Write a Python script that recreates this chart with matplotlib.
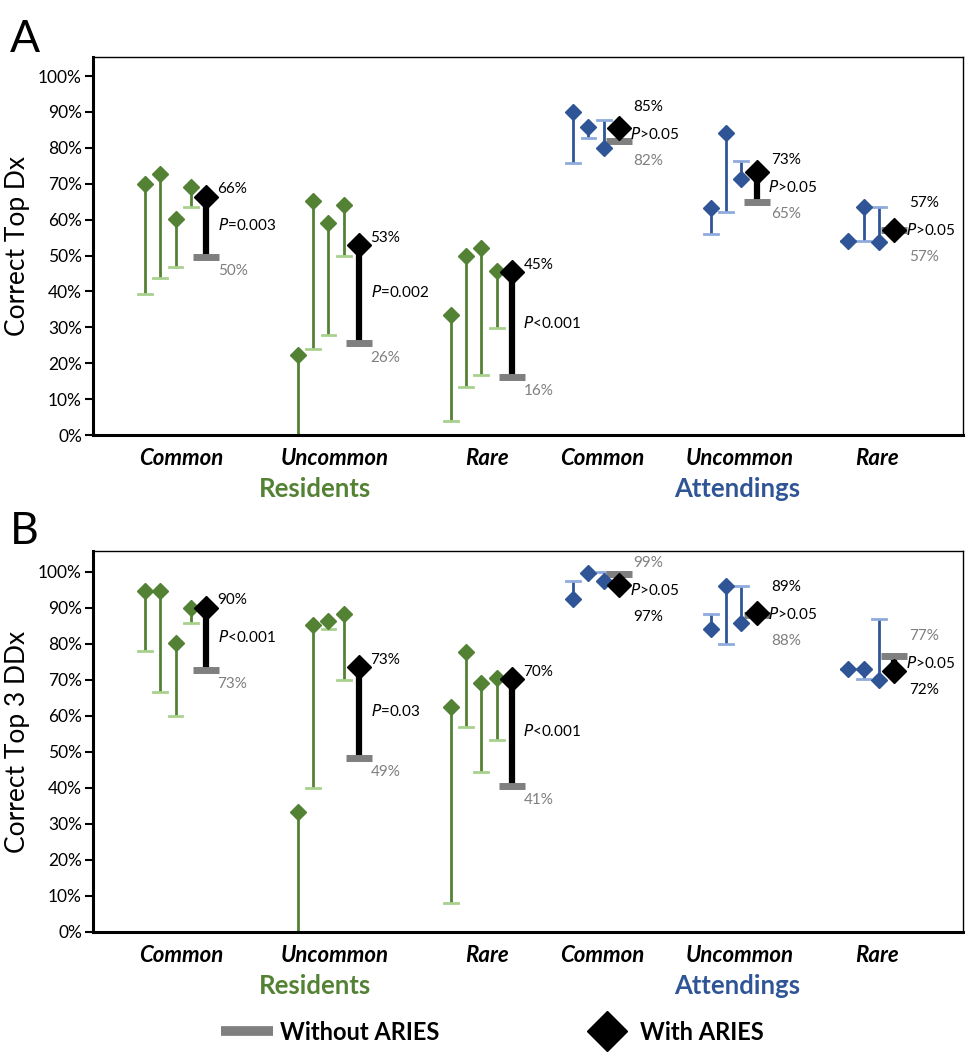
# ARIES diagnostic accuracy chart: residents vs attendings, with / without ARIES
import matplotlib.pyplot as plt
import matplotlib.lines as mlines
from matplotlib.ticker import FuncFormatter

plt.rcParams['font.family'] = ['Lato', 'DejaVu Sans']

categories = ["Common", "Uncommon", "Rare", "Common", "Uncommon", "Rare"]
groups = ["Residents", "Attendings"]

# panel A: correct top Dx, per participant (without -> with ARIES)
a_without = [[39.2, 43.8, 46.9, 63.5], [0.0, 24.0, 27.9, 50.0], [3.9, 13.5, 16.7, 29.9],
             [75.7, 82.6, 87.7], [56.0, 62.0, 76.2], [54.1, 54.1, 63.6]]
a_with = [[70.0, 72.6, 60.2, 69.2], [22.3, 65.3, 59.0, 64.2], [33.5, 50.0, 52.0, 45.8],
          [90.0, 85.9, 79.9], [63.1, 84.2, 71.3], [54.1, 63.6, 53.8]]
a_mean_without = [49.7, 25.5, 16.2, 81.9, 64.8, 57.1]
a_mean_with = [66.4, 52.9, 45.4, 85.6, 73.2, 57.1]
a_pvals = ["=0.003", "=0.002", "<0.001", ">0.05", ">0.05", ">0.05"]
a_lab_without = ["50%", "26%", "16%", "82%", "65%", "57%"]
a_lab_with = ["66%", "53%", "45%", "85%", "73%", "57%"]

# panel B: correct top 3 DDx
b_without = [[78.1, 66.6, 60.0, 85.9], [0.0, 40.0, 84.1, 70.0], [8.0, 56.8, 44.4, 53.3],
             [97.5, 99.8, 99.9], [88.2, 80.0, 96.1], [73.0, 70.3, 86.9]]
b_with = [[94.8, 94.8, 80.2, 90.1], [33.2, 85.2, 86.4, 88.3], [62.6, 77.7, 69.1, 70.4],
          [92.4, 99.8, 97.5], [84.1, 96.1, 85.7], [73.0, 73.0, 70.0]]
b_mean_without = [72.8, 48.3, 40.6, 99.4, 88.0, 76.7]
b_mean_with = [90.1, 73.5, 70.2, 96.4, 88.5, 72.6]
b_pvals = ["<0.001", "=0.03", "<0.001", ">0.05", ">0.05", ">0.05"]
b_lab_without = ["73%", "49%", "41%", "99%", "88%", "77%"]
b_lab_with = ["90%", "73%", "70%", "97%", "89%", "72%"]

GREEN, LGREEN = "#548235", "#A9D18E"
BLUE, LBLUE = "#2F5597", "#8FAADC"
GRAY = "#7F7F7F"

starts = [3.4, 13.4, 23.4, 31.4, 40.4, 49.4]
LFS = 11


def draw_panel(ax, without, withv, m_without, m_with, pvals, lab_wo, lab_w, ylabel, ymax):
    for g in range(6):
        dark, light = (GREEN, LGREEN) if g < 3 else (BLUE, LBLUE)
        x0 = starts[g]
        for i, (lo, hi) in enumerate(zip(without[g], withv[g])):
            x = x0 + i
            ax.plot([x, x], [lo, hi], color=dark, lw=2, zorder=2, solid_capstyle="butt")
            ax.plot([x - 0.45, x + 0.45], [lo, lo], color=light, lw=2, zorder=2)
            ax.plot(x, hi, marker="D", ms=8.5, color=dark, mec=dark, zorder=4)
        xb = x0 + len(without[g])
        ax.plot([xb, xb], [m_without[g], m_with[g]], color="black", lw=4.5, zorder=3,
                solid_capstyle="butt")
        ax.plot([xb - 0.85, xb + 0.85], [m_without[g], m_without[g]], color=GRAY, lw=5,
                zorder=3, solid_capstyle="butt")
        ax.plot(xb, m_with[g], marker="D", ms=12, color="black", zorder=5)

        hi, lo = m_with[g], m_without[g]
        tx = xb + 0.75
        mid = (hi + lo) / 2
        if g < 3:
            ax.text(tx, hi + 2, lab_w[g], fontsize=LFS, color="black", va="center", ha="left")
            ax.text(tx, mid + 0.5, "$P$" + pvals[g], fontsize=LFS, va="center", ha="left")
            ax.text(tx, lo - 4, lab_wo[g], fontsize=LFS, color=GRAY, va="center", ha="left")
        else:
            top = min(mid + 7.5, 102.5)
            pm = top - 7.5
            if hi >= lo:
                t_lab, t_col, b_lab, b_col = lab_w[g], "black", lab_wo[g], GRAY
            else:
                t_lab, t_col, b_lab, b_col = lab_wo[g], GRAY, lab_w[g], "black"
            ax.text(tx, pm, "$P$" + pvals[g], fontsize=LFS, va="center", ha="left")
            ax.text(tx + 0.2, top, t_lab, fontsize=LFS, color=t_col, va="center")
            ax.text(tx + 0.2, pm - 7.5, b_lab, fontsize=LFS, color=b_col, va="center")

    ax.set_xlim(0, 56.9)
    ax.set_ylim(0, ymax)
    ax.set_yticks(range(0, 101, 10))
    ax.yaxis.set_major_formatter(FuncFormatter(lambda v, p: f"{int(v)}%"))
    ax.tick_params(axis="y", direction="out", length=6, width=1.5, labelsize=12.5, pad=2)
    ax.set_xticks([])
    for s in ["top", "right"]:
        ax.spines[s].set_linewidth(1)
    ax.spines["left"].set_linewidth(2.2)
    ax.spines["bottom"].set_linewidth(2.2)
    ax.set_ylabel(ylabel, fontsize=19, labelpad=6)

    for g in range(6):
        n = len(without[g]) + 1
        cx = starts[g] + (n - 1) / 2 + 0.4
        ax.text(cx, -0.062, categories[g], transform=ax.get_xaxis_transform(),
                fontsize=16, fontweight="bold", fontstyle="italic", ha="center", va="center")
    ax.text(14.5, -0.143, groups[0], transform=ax.get_xaxis_transform(), fontsize=18.5,
            fontweight="bold", color=GREEN, ha="center", va="center")
    ax.text(42.1, -0.143, groups[1], transform=ax.get_xaxis_transform(), fontsize=18.5,
            fontweight="bold", color=BLUE, ha="center", va="center")


fig = plt.figure(figsize=(9.65, 10.52), dpi=100)
axA = fig.add_axes([93 / 965, 1 - 435 / 1052, 870 / 965, 378 / 1052])
axB = fig.add_axes([93 / 965, 1 - 932 / 1052, 870 / 965, 381 / 1052])

draw_panel(axA, a_without, a_with, a_mean_without, a_mean_with, a_pvals,
           a_lab_without, a_lab_with, "Correct Top Dx", 105.3)
draw_panel(axB, b_without, b_with, b_mean_without, b_mean_with, b_pvals,
           b_lab_without, b_lab_with, "Correct Top 3 DDx", 105.8)

fig.text(10 / 965, 1 - 40 / 1052, "A", fontsize=32, va="center", ha="left")
fig.text(10 / 965, 1 - 532 / 1052, "B", fontsize=32, va="center", ha="left")

h1 = mlines.Line2D([], [], color=GRAY, lw=7, solid_capstyle="butt")
h2 = mlines.Line2D([], [], color="black", marker="D", ms=20, lw=0)
fig.legend([h1, h2], ["Without ARIES", "With ARIES"], loc="center", bbox_to_anchor=(0.51, 1 - 1032 / 1052),
           ncol=2, frameon=False, prop={"size": 17, "weight": "bold"}, handlelength=2.2,
           columnspacing=6.0, handletextpad=0.3)

fig.savefig("out.png", dpi=100)
